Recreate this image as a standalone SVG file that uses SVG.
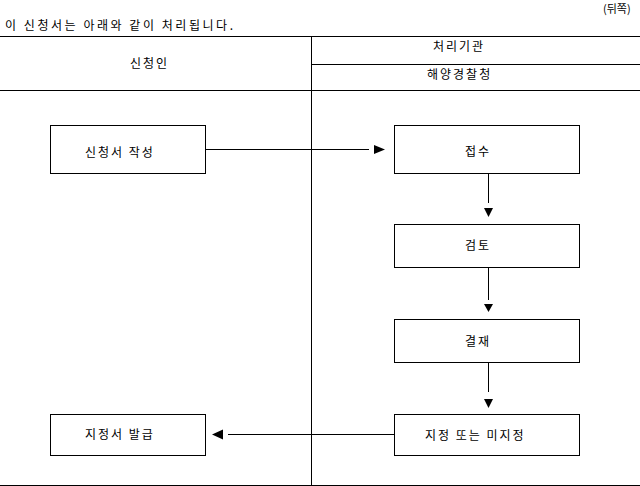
<svg xmlns="http://www.w3.org/2000/svg" width="640" height="486" viewBox="0 0 640 486">
<style>
text{font-family:"Noto Sans CJK KR","Noto Sans",sans-serif;font-size:12px;fill:#000;letter-spacing:2px}
.ln{stroke:#000;stroke-width:1;fill:none}
.box{stroke:#000;stroke-width:1;fill:#fff}
.ah{fill:#000}
</style>
<rect width="640" height="486" fill="#fff"/>
<g id="header">
<text x="5" y="30" textLength="230" lengthAdjust="spacing">이 신청서는 아래와 같이 처리됩니다.</text>
<text x="603" y="13" style="font-size:11px;letter-spacing:0">(뒤쪽)</text>
<line class="ln" x1="0" y1="36.5" x2="640" y2="36.5"/>
<line class="ln" x1="312" y1="64.5" x2="640" y2="64.5"/>
<line class="ln" x1="0" y1="90.5" x2="640" y2="90.5"/>
<line class="ln" x1="0" y1="485.5" x2="640" y2="485.5"/>
<line class="ln" x1="311.5" y1="36" x2="311.5" y2="486"/>
<text x="130" y="68">신청인</text>
<text x="433" y="51">처리기관</text>
<text x="427" y="79">해양경찰청</text>
</g>
<g id="connectors">
<line class="ln" x1="205" y1="149.5" x2="369" y2="149.5"/>
<polygon class="ah" points="374,145 385,149.5 374,154"/>
<line class="ln" x1="488.5" y1="174" x2="488.5" y2="203"/>
<polygon class="ah" points="484,208 493,208 488.5,217"/>
<line class="ln" x1="488.5" y1="268" x2="488.5" y2="300"/>
<polygon class="ah" points="484,304 493,304 488.5,312"/>
<line class="ln" x1="488.5" y1="363" x2="488.5" y2="392"/>
<polygon class="ah" points="484,399 493,399 488.5,408"/>
<line class="ln" x1="228" y1="434.5" x2="394" y2="434.5"/>
<polygon class="ah" points="223,429.5 212,434.5 223,439.5"/>
</g>
<g id="n1"><rect class="box" x="50.5" y="125.5" width="155" height="48"/><text x="85" y="157">신청서 작성</text></g>
<g id="n2"><rect class="box" x="394.5" y="125.5" width="185" height="48"/><text x="465" y="156">접수</text></g>
<g id="n3"><rect class="box" x="394.5" y="224.5" width="185" height="43"/><text x="465" y="250">검토</text></g>
<g id="n4"><rect class="box" x="394.5" y="319.5" width="185" height="43"/><text x="465" y="346">결재</text></g>
<g id="n5"><rect class="box" x="394.5" y="414.5" width="185" height="41"/><text x="425" y="440">지정 또는 미지정</text></g>
<g id="n6"><rect class="box" x="50.5" y="414.5" width="155" height="41"/><text x="85" y="439">지정서 발급</text></g>
</svg>
